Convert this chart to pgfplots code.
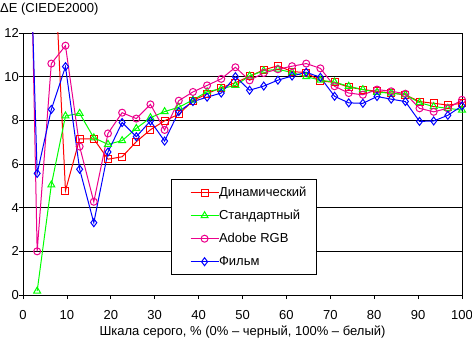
\documentclass[border=0pt]{standalone}
\usepackage{pgfplots}
\pgfplotsset{compat=1.18}
\usepackage{fontspec}
\setmainfont{Liberation Sans}
\begin{document}
\begin{tikzpicture}
\begin{axis}[
 name=ax,
 scale only axis, width=439bp, height=262bp,
 xmin=0, xmax=100, ymin=0, ymax=12,
 xtick={0,10,...,100}, ytick={0,2,...,12},
 tick pos=left, tick align=outside, major tick length=4bp,
 ymajorgrids, grid style={black, line width=0.8bp},
 axis line style={black, line width=0.8bp},
 tick style={black, line width=0.8bp},
 font=\fontsize{13bp}{15bp}\selectfont,
 /pgf/number format/assume math mode=true,
 xlabel={Шкала серого, \% (0\% – черный, 100\% – белый)},
 xlabel style={at={(axis description cs:0.5,0)}, anchor=base, yshift=-40bp, inner sep=0pt},
 xticklabel style={anchor=base, inner sep=0pt, yshift=-20bp},
 yticklabel style={anchor=east, inner sep=0pt},
 legend style={at={(0.3364,0.4416)}, anchor=north west, draw=black, fill=white,
   line width=0.8bp, inner xsep=10bp, inner ysep=7bp, row sep=11bp,
   nodes={inner sep=0pt, text height=9.5bp, text depth=2.5bp},
   font=\fontsize{13bp}{15bp}\selectfont},
 legend cell align=left,
 legend image code/.code={\path (0bp,0bp); \draw[mark repeat=2,mark phase=2,#1] plot coordinates {(9bp,0bp) (23bp,0bp) (37bp,0bp)};},
 every axis plot/.append style={line width=1bp, mark options={solid}},
]
\addplot[color=red, mark=square, mark size=3.5bp] coordinates {
(6.452,18.3)(9.677,4.78)(12.903,7.15)(16.129,7.15)(19.355,6.22)(22.581,6.33)(25.806,7.02)(29.032,7.57)
(32.258,7.98)(35.484,8.28)(38.710,8.90)(41.935,9.22)(45.161,9.50)(48.387,9.72)(51.613,10.02)(54.839,10.31)
(58.065,10.50)(61.290,10.23)(64.516,10.19)(67.742,9.80)(70.968,9.74)(74.194,9.52)(77.419,9.41)(80.645,9.33)
(83.871,9.25)(87.097,9.17)(90.323,8.86)(93.548,8.78)(96.774,8.70)(100,8.78)};
\addlegendentry{Динамический}
\addplot[color=green, mark=triangle, mark size=4bp] coordinates {
(3.226,0.18)(6.452,5.04)(9.677,8.20)(12.903,8.32)(16.129,7.20)(19.355,6.90)(22.581,7.07)(25.806,7.63)(29.032,8.12)
(32.258,8.40)(35.484,8.60)(38.710,8.93)(41.935,9.31)(45.161,9.45)(48.387,9.60)(51.613,10.03)(54.839,10.27)
(58.065,10.34)(61.290,10.19)(64.516,10.00)(67.742,9.84)(70.968,9.75)(74.194,9.56)(77.419,9.41)(80.645,9.28)
(83.871,9.25)(87.097,9.17)(90.323,8.81)(93.548,8.63)(96.774,8.55)(100,8.47)};
\addlegendentry{Стандартный}
\addplot[color=magenta, mark=o, mark size=3.5bp] coordinates {
(0,34)(3.226,2.00)(6.452,10.60)(9.677,11.42)(12.903,6.80)(16.129,4.27)(19.355,7.40)(22.581,8.35)(25.806,8.08)(29.032,8.73)
(32.258,7.56)(35.484,8.90)(38.710,9.30)(41.935,9.60)(45.161,9.90)(48.387,10.43)(51.613,9.83)(54.839,10.17)
(58.065,10.34)(61.290,10.48)(64.516,10.60)(67.742,10.38)(70.968,9.56)(74.194,9.25)(77.419,9.17)(80.645,9.41)
(83.871,9.33)(87.097,9.22)(90.323,8.55)(93.548,8.39)(96.774,8.55)(100,8.94)};
\addlegendentry{Adobe RGB}
\addplot[color=blue, mark=diamond, mark size=4bp] coordinates {
(0,27)(3.226,5.57)(6.452,8.50)(9.677,10.46)(12.903,5.76)(16.129,3.31)(19.355,6.55)(22.581,7.90)(25.806,7.25)(29.032,7.97)
(32.258,7.05)(35.484,8.40)(38.710,8.86)(41.935,9.06)(45.161,9.25)(48.387,10.00)(51.613,9.38)(54.839,9.57)
(58.065,9.84)(61.290,10.03)(64.516,10.20)(67.742,9.97)(70.968,9.10)(74.194,8.80)(77.419,8.78)(80.645,9.09)
(83.871,8.97)(87.097,8.86)(90.323,7.95)(93.548,7.97)(96.774,8.23)(100,8.66)};
\addlegendentry{Фильм}
\end{axis}
\node[anchor=west, inner sep=0pt, font=\fontsize{13bp}{15bp}\selectfont] at ([xshift=-23bp,yshift=24bp]ax.north west) {ΔE (CIEDE2000)};
\pgfresetboundingbox
\path[use as bounding box] ([xshift=-23bp,yshift=-43bp]ax.south west) rectangle ([xshift=10bp,yshift=33bp]ax.north east);
\end{tikzpicture}
\end{document}
